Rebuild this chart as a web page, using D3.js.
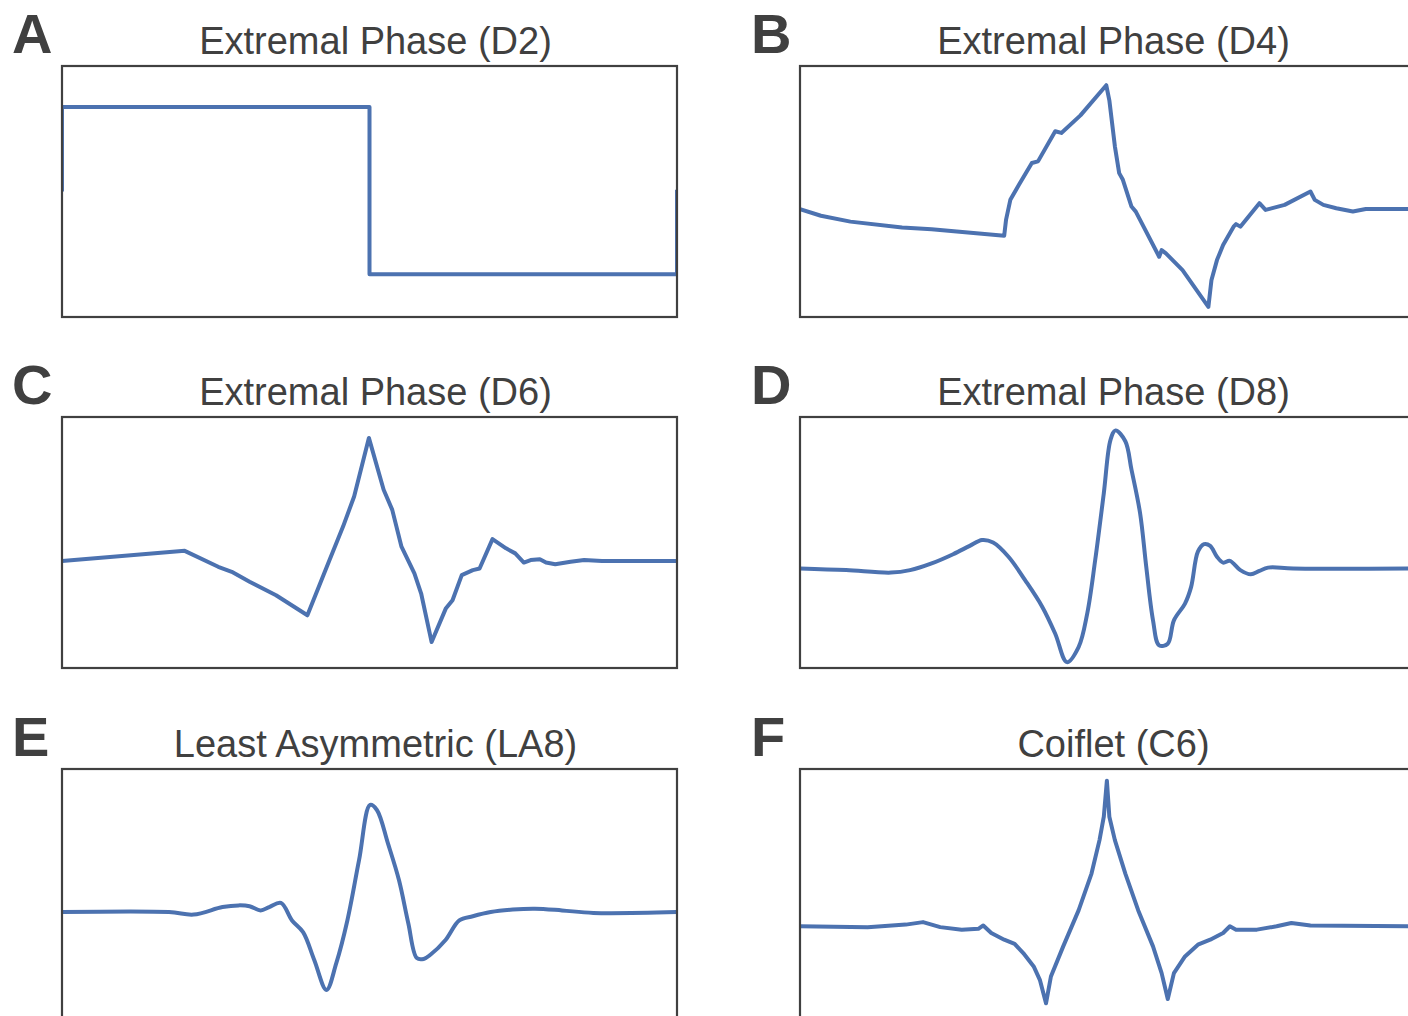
<!DOCTYPE html>
<html>
<head>
<meta charset="utf-8">
<script src="https://cdn.jsdelivr.net/npm/d3@7"></script>
<style>
  body { margin: 0; background: #fff; }
  svg { display: block; }
</style>
</head>
<body>
<svg id="chart"></svg>
<script>
// panel labels and titles
const letters = ["A", "B", "C", "D", "E", "F"];
const titles = [
  "Extremal Phase (D2)", "Extremal Phase (D4)",
  "Extremal Phase (D6)", "Extremal Phase (D8)",
  "Least Asymmetric (LA8)", "Coiflet (C6)"
];

// wavelet functions, x as fraction of support, y
const d2X = [0, 0, 0.5, 0.5, 1, 1];
const d2Y = [0, 1.01, 1.01, -0.99, -0.99, 0.02];

const d4X = [0, 0.034, 0.082, 0.166, 0.214, 0.332, 0.335, 0.342, 0.356, 0.377, 0.387, 0.415, 0.425, 0.456, 0.498,
  0.503, 0.512, 0.519, 0.525, 0.539, 0.546, 0.584, 0.588, 0.595, 0.622, 0.664, 0.669, 0.678, 0.688, 0.705, 0.709,
  0.716, 0.747, 0.757, 0.788, 0.830, 0.837, 0.851, 0.872, 0.899, 0.920, 1];
const d4Y = [-0.21, -0.29, -0.36, -0.43, -0.45, -0.53, -0.34, -0.10, 0.08, 0.34, 0.36, 0.72, 0.70, 0.91, 1.27,
  1.09, 0.54, 0.22, 0.14, -0.18, -0.24, -0.78, -0.70, -0.74, -0.94, -1.38, -1.06, -0.82, -0.64, -0.42, -0.39,
  -0.42, -0.14, -0.22, -0.16, 0.00, -0.10, -0.16, -0.20, -0.24, -0.21, -0.21];

const d6X = [0, 0.1995, 0.254, 0.276, 0.305, 0.348, 0.399, 0.435, 0.457, 0.475, 0.499, 0.523, 0.537, 0.552, 0.573,
  0.584, 0.601, 0.624, 0.635, 0.650, 0.668, 0.679, 0.700, 0.722, 0.737, 0.751, 0.762, 0.777, 0.787, 0.802, 0.827,
  0.849, 0.878, 1];
const d6Y = [-0.22, -0.10, -0.29, -0.35, -0.47, -0.63, -0.87, -0.21, 0.19, 0.55, 1.25, 0.63, 0.39, -0.05, -0.37,
  -0.61, -1.19, -0.79, -0.69, -0.39, -0.33, -0.31, 0.04, -0.07, -0.13, -0.24, -0.21, -0.20, -0.24, -0.26, -0.23,
  -0.21, -0.22, -0.22];

const d8X = [0, 0.075, 0.148, 0.179, 0.214, 0.249, 0.276, 0.296, 0.314, 0.339, 0.366, 0.394, 0.415, 0.434, 0.453,
  0.467, 0.480, 0.494, 0.505, 0.513, 0.529, 0.539, 0.553, 0.563, 0.574, 0.584, 0.598, 0.608, 0.626, 0.636, 0.647,
  0.657, 0.667, 0.678, 0.688, 0.699, 0.716, 0.733, 0.747, 0.761, 0.802, 1];
const d8Y = [-0.31, -0.33, -0.36, -0.33, -0.25, -0.14, -0.04, 0.03, 0.00, -0.17, -0.45, -0.77, -1.09, -1.43, -1.25,
  -0.85, -0.21, 0.59, 1.23, 1.34, 1.21, 0.87, 0.35, -0.29, -0.93, -1.23, -1.21, -0.93, -0.73, -0.53, -0.11,
  -0.02, -0.04, -0.17, -0.24, -0.22, -0.33, -0.38, -0.34, -0.30, -0.31, -0.31];

const la8X = [0, 0.174, 0.214, 0.261, 0.287, 0.305, 0.323, 0.337, 0.356, 0.374, 0.392, 0.410, 0.430, 0.446, 0.464,
  0.483, 0.501, 0.512, 0.530, 0.548, 0.563, 0.577, 0.588, 0.599, 0.624, 0.646, 0.668, 0.697, 0.733, 0.769, 0.813,
  0.864, 1];
const la8Y = [-0.21, -0.21, -0.24, -0.15, -0.13, -0.14, -0.19, -0.15, -0.10, -0.31, -0.45, -0.78, -1.14, -0.82, -0.31,
  0.41, 1.07, 1.01, 0.61, 0.17, -0.34, -0.76, -0.77, -0.72, -0.54, -0.31, -0.26, -0.21, -0.18, -0.17, -0.19,
  -0.22, -0.21];

const c6X = [0, 0.110, 0.172, 0.200, 0.228, 0.263, 0.290, 0.298, 0.311, 0.332, 0.349, 0.363, 0.380, 0.390, 0.400,
  0.408, 0.428, 0.453, 0.474, 0.487, 0.494, 0.499, 0.503, 0.512, 0.529, 0.550, 0.574, 0.588, 0.598, 0.608, 0.626,
  0.647, 0.667, 0.688, 0.699, 0.709, 0.743, 0.775, 0.799, 0.830, 1];
const c6Y = [-0.38, -0.39, -0.36, -0.33, -0.39, -0.42, -0.41, -0.37, -0.46, -0.54, -0.59, -0.70, -0.86, -1.02, -1.30,
  -0.98, -0.62, -0.19, 0.25, 0.65, 0.93, 1.36, 0.93, 0.65, 0.25, -0.19, -0.62, -0.94, -1.25, -0.94, -0.74,
  -0.60, -0.54, -0.46, -0.38, -0.42, -0.42, -0.38, -0.34, -0.37, -0.38];

const series = [[d2X, d2Y], [d4X, d4Y], [d6X, d6Y], [d8X, d8Y], [la8X, la8Y], [c6X, c6Y]];
const smooth = [false, false, false, true, true, false];

const width = 1408, height = 1016;
const colLeft = [62, 800];
const rowTop = [66, 417, 769];
const panelW = 615, panelH = 251;
const lineColor = "#4c72b0";
const inkColor = "#404040";
const font = "'Liberation Sans', Arial, sans-serif";

const svg = d3.select("#chart")
    .attr("width", width)
    .attr("height", height)
    .attr("viewBox", [0, 0, width, height]);

const x = d3.scaleLinear([0, 1], [0, panelW]);
const y = d3.scaleLinear([-1.5, 1.5], [panelH, 0]);

series.forEach(([xs, ys], i) => {
  const col = i % 2, row = Math.floor(i / 2);
  const g = svg.append("g")
      .attr("transform", `translate(${colLeft[col]},${rowTop[row]})`);

  g.append("clipPath")
      .attr("id", `clip${i}`)
    .append("rect")
      .attr("width", panelW)
      .attr("height", panelH);

  const line = d3.line()
      .x(d => x(d[0]))
      .y(d => y(d[1]))
      .curve(smooth[i] ? d3.curveCatmullRom.alpha(0.5) : d3.curveLinear);

  g.append("path")
      .datum(d3.zip(xs, ys))
      .attr("clip-path", `url(#clip${i})`)
      .attr("fill", "none")
      .attr("stroke", lineColor)
      .attr("stroke-width", 4)
      .attr("stroke-linejoin", "round")
      .attr("d", line);

  g.append("rect")
      .attr("width", panelW)
      .attr("height", panelH)
      .attr("fill", "none")
      .attr("stroke", inkColor)
      .attr("stroke-width", 2.2);

  g.append("text")
      .attr("x", panelW / 2 + 6)
      .attr("y", -11.7)
      .attr("text-anchor", "middle")
      .attr("fill", inkColor)
      .style("font-family", font)
      .style("font-size", "38px")
      .text(titles[i]);

  g.append("text")
      .attr("x", col === 0 ? -50 : -49)
      .attr("y", -13)
      .attr("fill", inkColor)
      .style("font-family", font)
      .style("font-weight", "bold")
      .style("font-size", "56px")
      .text(letters[i]);
});
</script>
</body>
</html>
